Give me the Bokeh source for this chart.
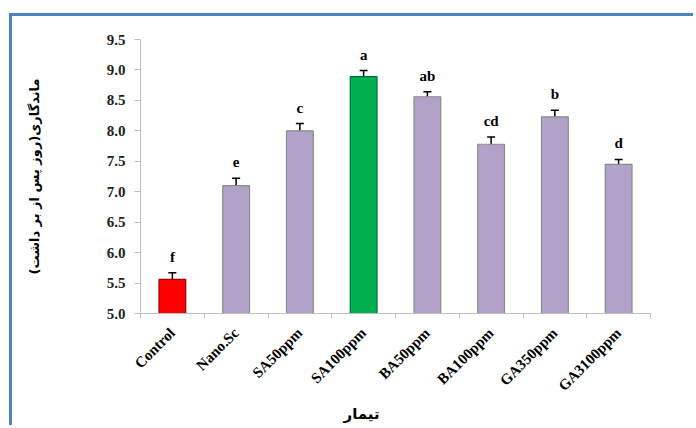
import math
from bokeh.plotting import figure
from bokeh.models import (Range1d, LinearAxis, FixedTicker, Whisker, TeeHead,
                          ColumnDataSource, Title, PrintfTickFormatter)
from bokeh.core.properties import value
from bokeh.embed import file_html
from bokeh.resources import INLINE

# ---- data ----
categories = ["Control", "Nano.Sc", "SA50ppm", "SA100ppm", "BA50ppm", "BA100ppm", "GA350ppm", "GA3100ppm"]
means = [5.56, 7.10, 8.00, 8.89, 8.56, 7.78, 8.23, 7.45]
errors = [0.11, 0.12, 0.12, 0.10, 0.08, 0.12, 0.11, 0.08]
letters = ["f", "e", "c", "a", "ab", "cd", "b", "d"]
y_ticks = [5.0, 5.5, 6.0, 6.5, 7.0, 7.5, 8.0, 8.5, 9.0, 9.5]
y_title = "ماندگاری(روز پس از بر داشت)"
x_title = "تیمار"

# ---- styles ----
LAV, LAV_EDGE = "#B3A2C7", "#8A8A8A"
special = {"Control": ("#FF0000", "#A00000"), "SA100ppm": ("#00B050", "#00703A")}
fills = [special.get(c, (LAV, LAV_EDGE))[0] for c in categories]
edges = [special.get(c, (LAV, LAV_EDGE))[1] for c in categories]
AXIS_GRAY = "#BFBFBF"
SERIF = value("Liberation Serif")

n = len(categories)
centers = [i + 0.5 for i in range(n)]
bounds = list(range(n + 1))
y_start, y_end = y_ticks[0], y_ticks[-1]

src = ColumnDataSource(dict(
    x=centers, mean=means,
    upper=[m + e for m, e in zip(means, errors)],
    lower=[m - e for m, e in zip(means, errors)],
    letter=letters, fill=fills, edge=edges,
))

p = figure(width=684, height=412, x_range=Range1d(0, n),
           y_range=Range1d(y_start, y_end), output_backend="svg", toolbar_location=None,
           x_axis_location=None, min_border_left=128, min_border_right=46,
           min_border_top=23, min_border_bottom=115)
# blue frame line along the top and left edges, drawn as a CSS shadow
p.styles = {"position": "relative", "left": "12px", "top": "16px",
            "box-shadow": "-3px -3px 0px 0px #4F81BD"}
p.outline_line_color = None
p.xgrid.grid_line_color = None
p.ygrid.grid_line_color = None
p.background_fill_color = "white"
p.border_fill_color = "white"

cat_axis = LinearAxis(ticker=FixedTicker(ticks=centers, minor_ticks=bounds),
                      major_label_overrides={c: name for c, name in zip(centers, categories)},
                      axis_line_color=AXIS_GRAY, major_tick_line_color=None, major_tick_out=0,
                      major_tick_in=0, minor_tick_line_color=AXIS_GRAY, minor_tick_out=5,
                      minor_tick_in=0, major_label_orientation=math.pi / 4,
                      major_label_standoff=12, major_label_text_font="Liberation Serif",
                      major_label_text_font_style="bold", major_label_text_font_size="15px",
                      major_label_text_color="black")
p.add_layout(cat_axis, "below")

p.add_layout(Title(text=x_title, align="left", offset=203, text_font="DejaVu Sans",
                   text_font_style="bold", text_font_size="15px", text_color="black",
                   standoff=1), "below")

ya = p.yaxis[0]
ya.ticker = FixedTicker(ticks=y_ticks)
ya.formatter = PrintfTickFormatter(format="%.1f")
ya.axis_line_color = AXIS_GRAY
ya.major_tick_line_color = AXIS_GRAY
ya.major_tick_out = 6
ya.major_tick_in = 0
ya.minor_tick_line_color = None
ya.major_label_standoff = 9
ya.major_label_text_font = "Liberation Serif"
ya.major_label_text_font_style = "bold"
ya.major_label_text_font_size = "15px"
ya.major_label_text_color = "#222222"
ya.axis_label = y_title
ya.axis_label_text_font = "DejaVu Sans"
ya.axis_label_text_font_style = "bold"
ya.axis_label_text_font_size = "13px"
ya.axis_label_text_color = "black"
ya.axis_label_standoff = 62

p.vbar(x="x", top="mean", bottom=y_start, width=0.42, fill_color="fill",
       line_color="edge", line_width=1.2, source=src)

p.add_layout(Whisker(base="x", upper="upper", lower="lower", source=src,
                     line_color="black", line_width=1.5,
                     upper_head=TeeHead(size=8, line_color="black", line_width=1.5),
                     lower_head=TeeHead(size=8, line_color="black", line_width=1.5)))

p.text(x="x", y="upper", text="letter", y_offset=-16, text_align="center",
       text_baseline="alphabetic", text_font=SERIF, text_font_style="bold",
       text_font_size="15px", text_color="black", source=src)

open("out.html", "w").write(file_html(p, INLINE))
